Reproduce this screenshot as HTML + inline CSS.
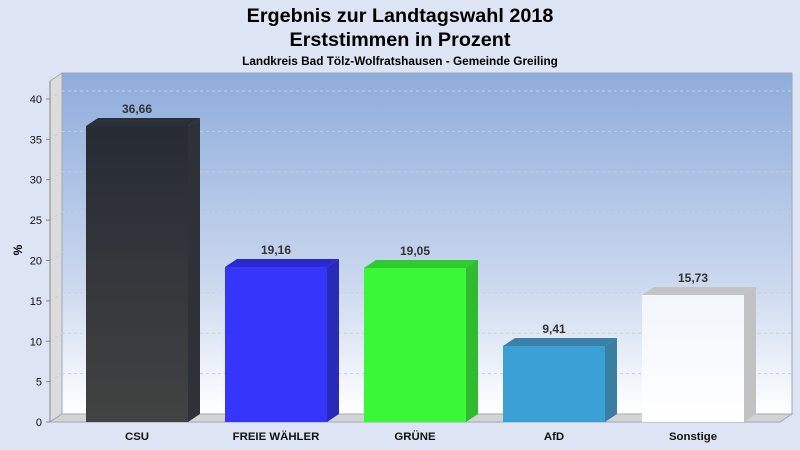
<!DOCTYPE html>
<html><head><meta charset="utf-8"><style>
body{margin:0;background:#dde4f3;}
svg{display:block;font-family:"Liberation Sans",Arial,sans-serif;}
</style></head><body>
<svg width="800" height="450" xmlns="http://www.w3.org/2000/svg">
<defs>
<linearGradient id="bg" x1="0" y1="0" x2="0" y2="1">
<stop offset="0" stop-color="#8eacdc"/><stop offset="0.6" stop-color="#c9d7ee"/><stop offset="1" stop-color="#ffffff"/>
</linearGradient>
<linearGradient id="csu" x1="0" y1="0" x2="0" y2="1"><stop offset="0" stop-color="#262b34"/><stop offset="1" stop-color="#424242"/></linearGradient>
<linearGradient id="son" x1="0" y1="0" x2="0" y2="1"><stop offset="0" stop-color="#f2f5fb"/><stop offset="1" stop-color="#ffffff"/></linearGradient>
</defs>
<rect width="800" height="450" fill="#dde4f3"/>
<text x="400" y="22" text-anchor="middle" font-size="19.8" font-weight="bold">Ergebnis zur Landtagswahl 2018</text>
<text x="400" y="46" text-anchor="middle" font-size="19.8" font-weight="bold">Erststimmen in Prozent</text>
<text x="400" y="65" text-anchor="middle" font-size="11.8" font-weight="bold">Landkreis Bad Tölz-Wolfratshausen - Gemeinde Greiling</text>
<rect x="62" y="73" width="730" height="341" fill="url(#bg)" stroke="#a0a8b8" stroke-width="1"/>
<polygon points="50,81 62,73 62,414 50,422" fill="#dcdcdc" stroke="#a0a8b8"/>
<polygon points="50,422 62,414 792,414 780,422" fill="#d4d4d4" stroke="#a0a8b8"/>
<g stroke="#c8cfdc" stroke-dasharray="3,3" fill="none">
<line x1="62" y1="373.6" x2="792" y2="373.6"/><line x1="62" y1="333.3" x2="792" y2="333.3"/>
<line x1="62" y1="292.9" x2="792" y2="292.9"/><line x1="62" y1="252.5" x2="792" y2="252.5"/>
<line x1="62" y1="212.1" x2="792" y2="212.1"/><line x1="62" y1="171.7" x2="792" y2="171.7"/>
<line x1="62" y1="131.4" x2="792" y2="131.4"/><line x1="62" y1="91" x2="792" y2="91"/>
<line x1="50" y1="381.6" x2="62" y2="373.6"/><line x1="50" y1="341.3" x2="62" y2="333.3"/>
<line x1="50" y1="300.9" x2="62" y2="292.9"/><line x1="50" y1="260.5" x2="62" y2="252.5"/>
<line x1="50" y1="220.1" x2="62" y2="212.1"/><line x1="50" y1="179.7" x2="62" y2="171.7"/>
<line x1="50" y1="139.4" x2="62" y2="131.4"/><line x1="50" y1="99" x2="62" y2="91"/>
</g>
<line x1="50" y1="81" x2="50" y2="422" stroke="#888"/>
<g stroke="#888"><line x1="46" y1="422" x2="50" y2="422"/><line x1="46" y1="381.6" x2="50" y2="381.6"/><line x1="46" y1="341.3" x2="50" y2="341.3"/><line x1="46" y1="300.9" x2="50" y2="300.9"/><line x1="46" y1="260.5" x2="50" y2="260.5"/><line x1="46" y1="220.1" x2="50" y2="220.1"/><line x1="46" y1="179.7" x2="50" y2="179.7"/><line x1="46" y1="139.4" x2="50" y2="139.4"/><line x1="46" y1="99" x2="50" y2="99"/></g>
<g font-size="11" text-anchor="end" fill="#111">
<text x="42" y="426">0</text><text x="42" y="385.6">5</text><text x="42" y="345.3">10</text><text x="42" y="304.9">15</text><text x="42" y="264.5">20</text><text x="42" y="224.1">25</text><text x="42" y="183.7">30</text><text x="42" y="143.4">35</text><text x="42" y="103">40</text>
</g>
<text x="22" y="250" font-size="12" font-weight="bold" transform="rotate(-90 22 250)" text-anchor="middle">%</text>
<g>
<polygon points="86,126 98,118 200,118 188,126" fill="#2a2f38"/>
<polygon points="188,126 200,118 200,414 188,422" fill="#2e3238"/>
<rect x="86" y="126" width="102" height="296" fill="url(#csu)"/>
<polygon points="225,267 237,259 339,259 327,267" fill="#2a2ad0"/>
<polygon points="327,267 339,259 339,414 327,422" fill="#2a2ab8"/>
<rect x="225" y="267" width="102" height="155" fill="#3535fb"/>
<polygon points="364,268 376,260 478,260 466,268" fill="#2ecb2e"/>
<polygon points="466,268 478,260 478,414 466,422" fill="#2fba2f"/>
<rect x="364" y="268" width="102" height="154" fill="#38f838"/>
<polygon points="503,346 515,338 617,338 605,346" fill="#3a80a8"/>
<polygon points="605,346 617,338 617,414 605,422" fill="#3a7fa2"/>
<rect x="503" y="346" width="102" height="76" fill="#3aa0d6"/>
<polygon points="642,295 654,287 756,287 744,295" fill="#c4c4c4"/>
<polygon points="744,295 756,287 756,414 744,422" fill="#c2c2c2"/>
<rect x="642" y="295" width="102" height="127" fill="url(#son)"/>
</g>
<g font-size="12" font-weight="bold" text-anchor="middle" fill="#333">
<text x="137" y="113">36,66</text><text x="276" y="254">19,16</text><text x="415" y="255">19,05</text><text x="554" y="333">9,41</text><text x="693" y="282">15,73</text>
</g>
<g font-size="11.4" font-weight="bold" text-anchor="middle" fill="#111">
<text x="137" y="440">CSU</text><text x="276" y="440">FREIE WÄHLER</text><text x="415" y="440">GRÜNE</text><text x="554" y="440">AfD</text><text x="693" y="440">Sonstige</text>
</g>
</svg>
</body></html>
